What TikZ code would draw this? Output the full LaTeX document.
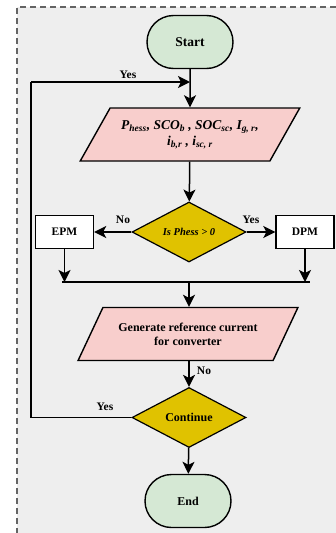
\documentclass[tikz,border=0pt]{standalone}
\usepackage{fontspec}
\setmainfont{Liberation Serif}
\usetikzlibrary{shapes.geometric,shapes.misc,arrows.meta}
\definecolor{bggray}{RGB}{238,238,238}
\definecolor{bordergray}{RGB}{100,100,100}
\definecolor{termgreen}{RGB}{213,232,212}
\definecolor{iopink}{RGB}{248,206,204}
\definecolor{decyellow}{RGB}{224,194,0}
\begin{document}
\begin{tikzpicture}[x=1pt,y=-1pt,
  every node/.style={font=\bfseries\fontsize{12}{14}\selectfont},
  term/.style={rounded rectangle, draw, line width=1.4pt, fill=termgreen,
    minimum width=86pt, minimum height=53pt, inner sep=0pt},
  io/.style={trapezium, trapezium left angle=48, trapezium right angle=132,
    trapezium stretches=true, draw, line width=1.4pt, fill=iopink,
    minimum width=220pt, minimum height=53pt, inner sep=0pt, align=center},
  dec/.style={diamond, draw, line width=1.2pt, fill=decyellow,
    minimum width=114pt, minimum height=60pt, inner sep=0pt},
  proc/.style={rectangle, draw, line width=1.4pt, fill=white,
    minimum width=58pt, minimum height=33pt, inner sep=0pt},
  lbl/.style={font=\bfseries\fontsize{11.5}{13}\selectfont, inner sep=0pt},
  conn/.style={line width=1.5pt},
  arr/.style={line width=1.5pt, -{Stealth[length=12pt,width=12pt,inset=3pt]}}
]
\useasboundingbox (0,0) rectangle (336,533);
\fill[white] (0,0) rectangle (336,533);
\fill[bggray] (17,7) rectangle (336,533);
\draw[bordergray, line width=1.3pt, dash pattern=on 6pt off 4pt] (336,7) -- (17,7) -- (17,533);

\node[term] (start) at (190,42) {\fontsize{13.5}{15}\selectfont Start};
\node[io] (in) at (190,134.5) {\fontsize{13.5}{15}\selectfont\itshape P\textsubscript{hess}, SCO\textsubscript{b} , SOC\textsubscript{sc}, I\textsubscript{g, r},\\[2pt]\fontsize{13.5}{15}\selectfont\itshape i\textsubscript{b,r} , i\textsubscript{sc, r}};
\node[dec] (d1) at (189,232) {\itshape\fontsize{10.5}{12}\selectfont Is Phess > 0};
\node[proc] (epm) at (64.5,232) {\fontsize{11.5}{13}\selectfont EPM};
\node[proc] (dpm) at (305,232) {\fontsize{11.5}{13}\selectfont DPM};
\node[io] (gen) at (188,334) {Generate reference current\\for converter};
\node[dec] (d2) at (189,417.5) {Continue};
\node[term] (end) at (188,501) {End};

\coordinate (mL) at (62,282);
\coordinate (mR) at (310,282);
\coordinate (mC) at (189,282);
\coordinate (loopT) at (31,82);
\coordinate (loopB) at (31,417.5);
\coordinate (loopE) at (190,82);

\draw[arr] (start) -- (in);
\draw[arr] (in) -- (d1);
\draw[arr] (d1) -- (epm);
\draw[arr] (d1) -- (dpm);
\draw[arr] (epm.south) -- (epm.south |- mL);
\draw[arr] (dpm.south) -- (dpm.south |- mR);
\draw[conn] (mL) -- (mR);
\draw[arr] (mC) -- (gen.north -| mC);
\draw[arr] (gen.south -| mC) -- (d2);
\draw[arr] (d2) -- (end);
\draw[conn] (d2.west) -- (loopB) -- (loopT);
\draw[arr] (loopT) -- (loopE);

\node[lbl] (yes1) at (128,75) {Yes};
\node[lbl] (no1) at (123,220) {No};
\node[lbl] (yes2) at (251,220) {Yes};
\node[lbl] (no2) at (204,371) {No};
\node[lbl] (yes3) at (105,407) {Yes};
\end{tikzpicture}
\end{document}
